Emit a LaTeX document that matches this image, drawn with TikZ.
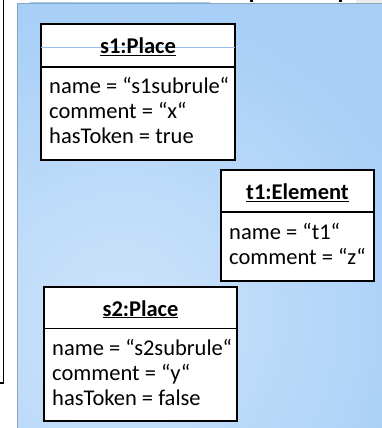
\documentclass[tikz,border=0pt]{standalone}
\usepackage{fontspec}
\setmainfont{Carlito}
\usetikzlibrary{calc}
\definecolor{panelblue}{RGB}{166,206,247}
\definecolor{panellight}{RGB}{206,228,250}
\definecolor{paneledge}{RGB}{140,165,190}
\definecolor{guideblue}{RGB}{150,190,235}
\tikzset{
  objbox/.style={draw=black, line width=1.6pt, fill=white, anchor=north west,
    inner sep=0pt, outer sep=0pt},
  objhead/.style={font=\fontsize{22.5}{27}\selectfont\bfseries, inner sep=0pt, anchor=base},
  attr/.style={font=\fontsize{22.5}{27}\selectfont, inner sep=0pt, anchor=base west},
  divider/.style={draw=black, line width=1.6pt},
}
\newcommand{\ulhead}[1]{\underline{#1}}
\begin{document}
\begin{tikzpicture}[x=1pt,y=-1pt]
\useasboundingbox (0,0) rectangle (382,428);
% neighbouring frame on the left, mostly outside the view
\draw[line width=1.4pt] (-10,-5) -- (3.5,-5) -- (3.5,383) -- (-10,383);
% gradient panel
\begin{scope}
  \clip (17,3) rectangle (390,440);
  \fill[panelblue] (17,3) rectangle (390,440);
  \shade[inner color=panellight, outer color=panelblue] (120,320) circle (330);
\end{scope}
\draw[paneledge, line width=0.8pt] (17,440) -- (17,3) -- (390,3);
% cut-off heading above the panel
\fill[black] (250,-2) rectangle (253,2);
\fill[black] (339,-2) rectangle (342,2);
\fill[gray!15] (356,0) rectangle (382,3);

% s1:Place
\node[objbox, minimum width=194, minimum height=136] (s1) at (41,24) {};
\coordinate (s1d) at ($(s1.north west)+(0,43)$);
\draw[divider] (s1d) -- (s1d -| s1.east);
\draw[guideblue, line width=0.6pt] ($(s1.north west)+(0,23)$) -- ($(s1.north east)+(0,23)$);
\node[objhead] (s1h) at ($(s1.north)+(0,29.5)$) {\ulhead{s1:Place}};
\node[attr] (s1a) at ($(s1.north west)+(8,69)$) {name = “s1subrule“};
\node[attr] (s1b) at ($(s1.north west)+(8,94)$) {comment = “x“};
\node[attr] (s1c) at ($(s1.north west)+(8,119)$) {hasToken = true};

% t1:Element
\node[objbox, minimum width=153, minimum height=111] (t1) at (221,170) {};
\coordinate (t1d) at ($(t1.north west)+(0,42)$);
\draw[divider] (t1d) -- (t1d -| t1.east);
\node[objhead] (t1h) at ($(t1.north)+(0,29.5)$) {\ulhead{t1:Element}};
\node[attr] (t1a) at ($(t1.north west)+(8,69)$) {name = “t1“};
\node[attr] (t1b) at ($(t1.north west)+(8,94)$) {comment = “z“};

% s2:Place
\node[objbox, minimum width=193, minimum height=134] (s2) at (44,287) {};
\coordinate (s2d) at ($(s2.north west)+(0,41.5)$);
\draw[divider] (s2d) -- (s2d -| s2.east);
\node[objhead] (s2h) at ($(s2.north)+(0,29)$) {\ulhead{s2:Place}};
\node[attr] (s2a) at ($(s2.north west)+(8,68)$) {name = “s2subrule“};
\node[attr] (s2b) at ($(s2.north west)+(8,93)$) {comment = “y“};
\node[attr] (s2c) at ($(s2.north west)+(8,118)$) {hasToken = false};
\end{tikzpicture}
\end{document}
